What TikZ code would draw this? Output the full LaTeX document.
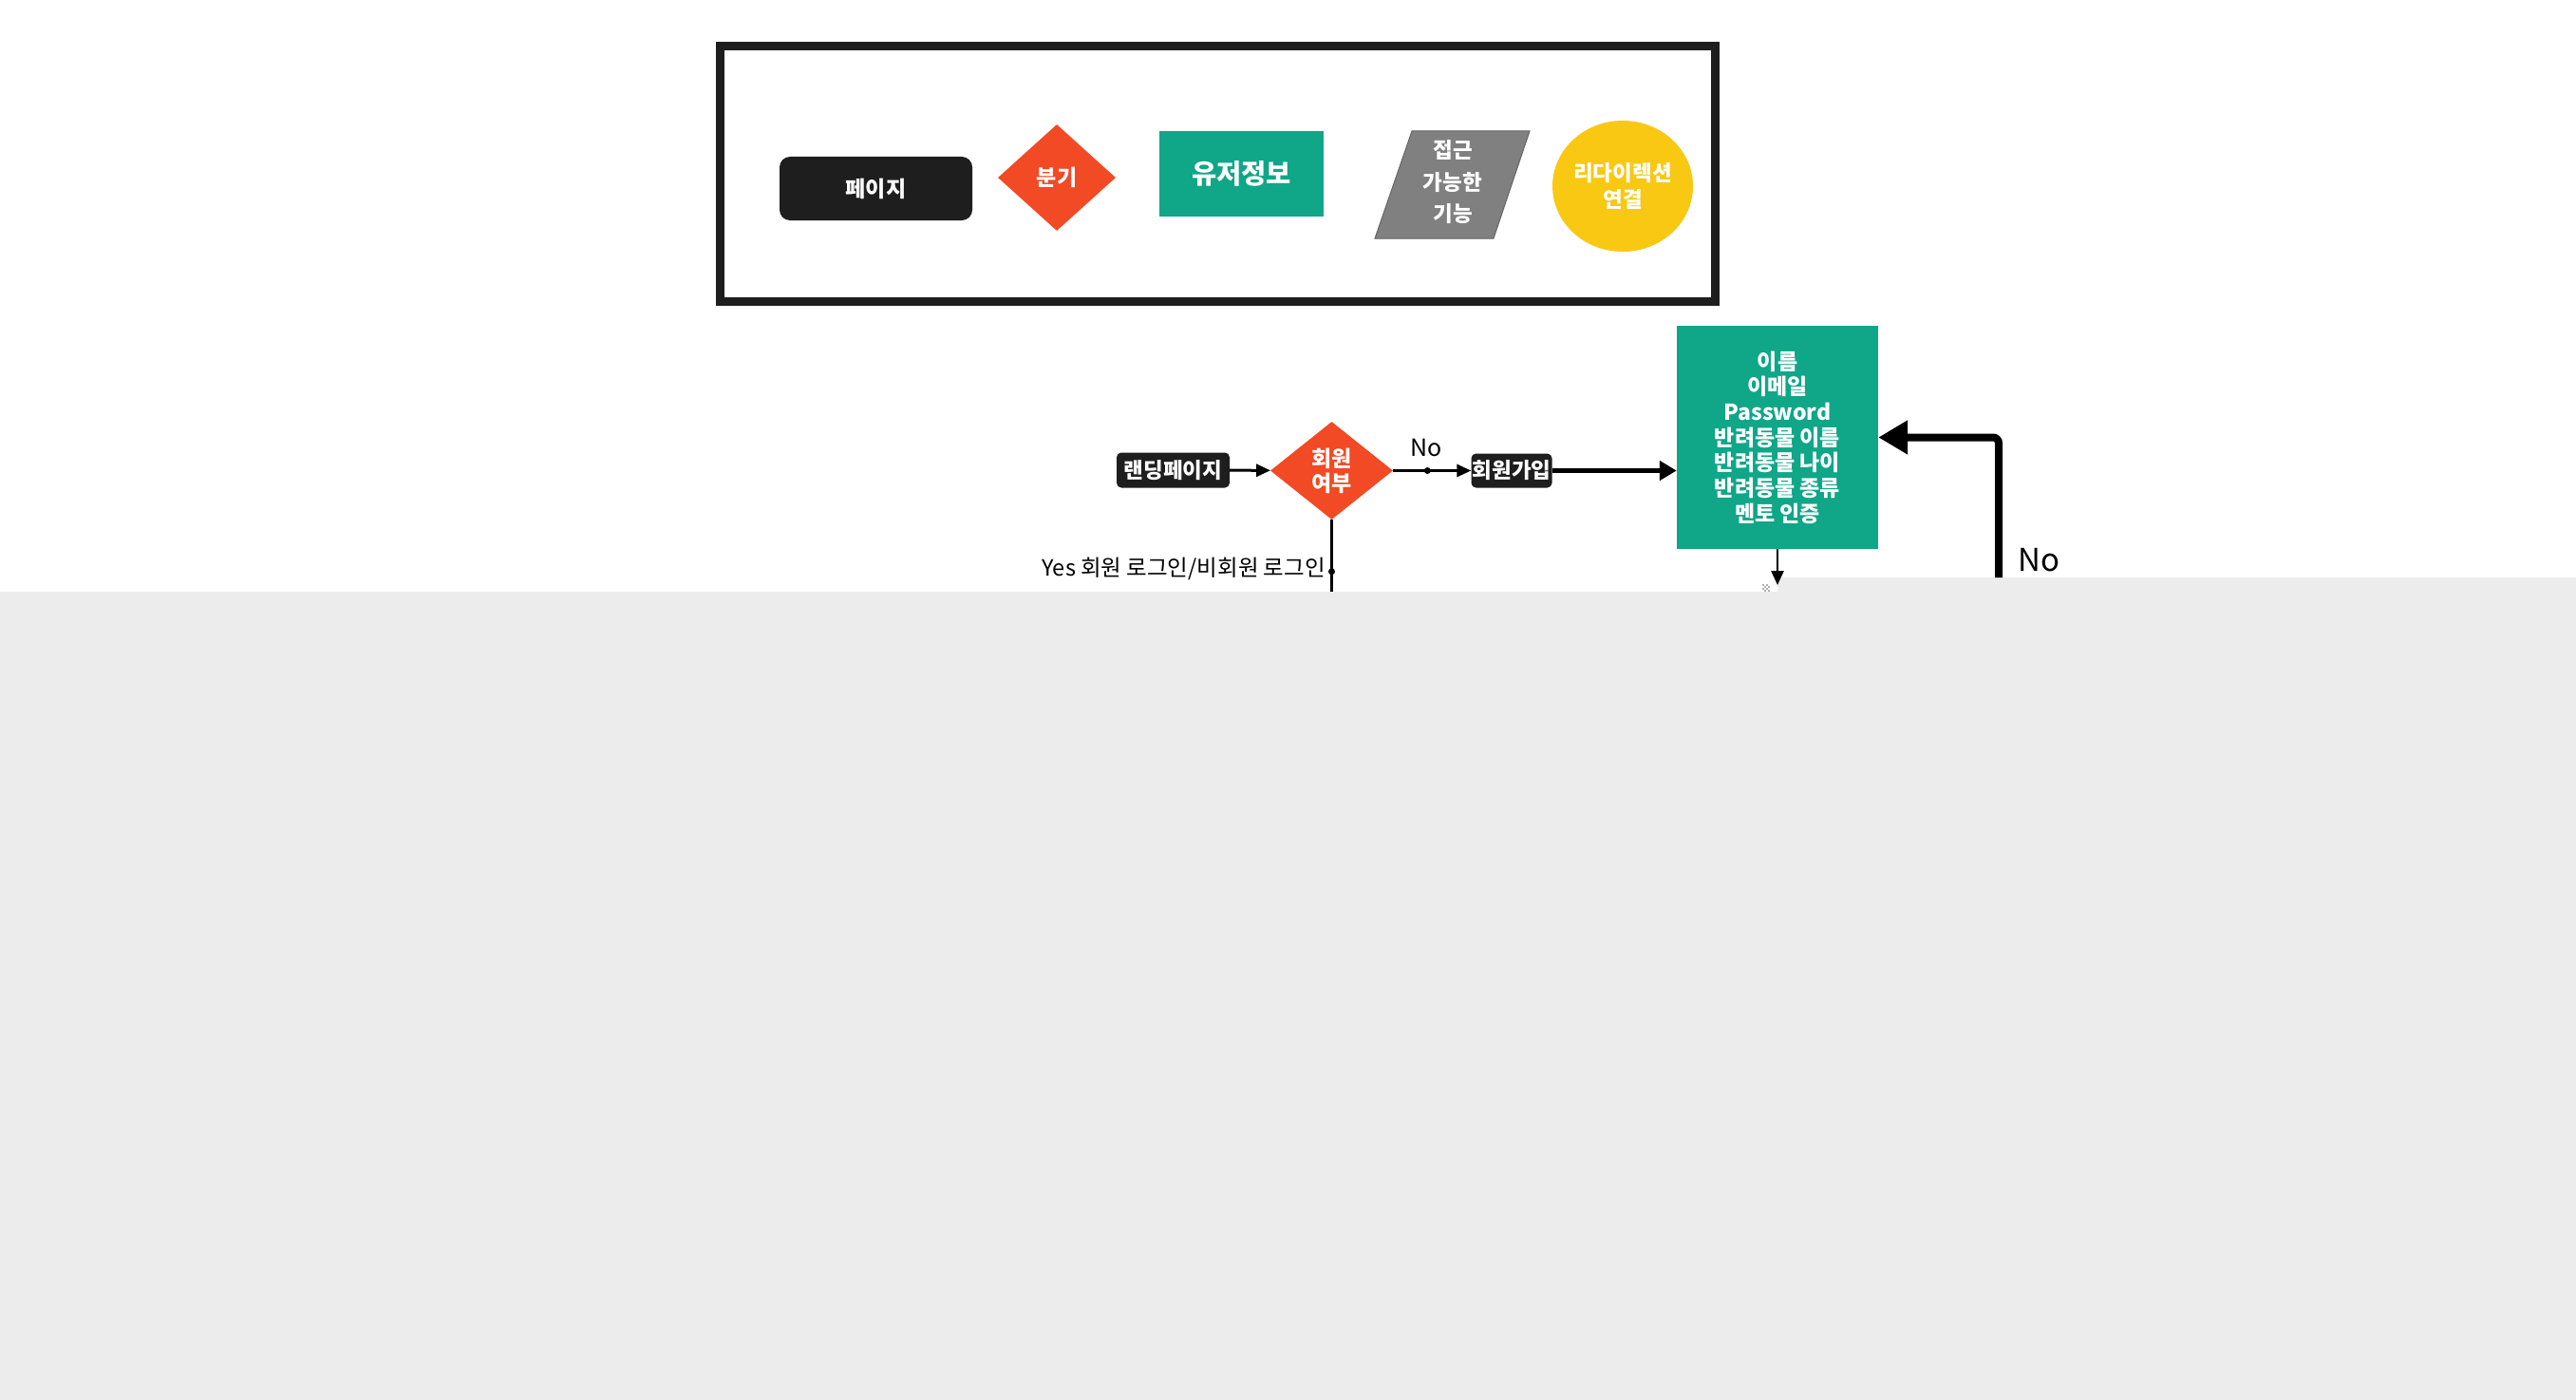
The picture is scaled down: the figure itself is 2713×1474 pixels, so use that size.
\documentclass[tikz,border=0pt]{standalone}
\usepackage{fontspec}
\setmainfont{Noto Sans CJK KR}
\usetikzlibrary{shapes.geometric,arrows.meta}
\definecolor{pageblack}{HTML}{1E1E1E}
\definecolor{branchred}{HTML}{F14A24}
\definecolor{infogreen}{HTML}{10A688}
\definecolor{accgrey}{HTML}{808080}
\definecolor{accedge}{HTML}{666666}
\definecolor{rdyellow}{HTML}{F9C813}
\definecolor{canvasgrey}{HTML}{ECECEC}
\definecolor{iconA}{HTML}{B0B0B0}
\tikzset{
  pagebox/.style={fill=pageblack, text=white, inner sep=0pt, font=\fontsize{22.5}{25}\selectfont\bfseries},
  branchbox/.style={diamond, fill=branchred, text=white, inner sep=0pt, align=center},
  infobox/.style={rectangle, fill=infogreen, text=white, inner sep=0pt, align=center},
  thinarrow/.style={line width=3pt, -{Triangle[length=15pt,width=13pt]}},
  thinline/.style={line width=3pt},
  thickarrow/.style={line width=5pt, -{Triangle[length=18pt,width=20pt]}},
  fbarrow/.style={line width=8pt, -{Triangle[length=31pt,width=34pt]}},
  lbl/.style={inner sep=0pt, text=black}
}
\begin{document}
\begin{tikzpicture}[x=1pt,y=-1pt]
\useasboundingbox (0,0) rectangle (2713,1474);
\fill[white] (0,0) rectangle (2713,1474);
\fill[canvasgrey] (0,623) -- (1872,623) -- (1872,608) -- (2713,608) -- (2713,1474) -- (0,1474) -- cycle;

% legend
\draw[line width=9pt, draw=pageblack] (758.5,48.5) rectangle (1806.5,317.5);
\node[pagebox, minimum width=203pt, minimum height=67pt, rounded corners=11pt, font=\fontsize{23}{26}\selectfont\bfseries] (lgpage) at (922.5,198.5) {페이지};
\node[branchbox, minimum width=124pt, minimum height=112pt, font=\fontsize{23}{26}\selectfont\bfseries] (lgbranch) at (1113,187) {분기};
\node[infobox, minimum width=173pt, minimum height=90pt, text depth=4pt, font=\fontsize{28.5}{31}\selectfont\bfseries] (lginfo) at (1307.5,183) {유저정보};
\filldraw[fill=accgrey, draw=accedge, line width=1pt] (1448,251) -- (1487,138) -- (1611,138) -- (1573,251) -- cycle;
\node[lbl, text=white, align=center, font=\fontsize{22.5}{33.5}\selectfont\bfseries] (lgacc) at (1530,192) {접근\\가능한\\기능};
\node[ellipse, fill=rdyellow, text=white, minimum width=148pt, minimum height=138pt, inner sep=0pt, align=center, font=\fontsize{22.5}{28}\selectfont\bfseries] (lgredir) at (1709,196) {리다이렉션\\연결};

% flow
\node[pagebox, minimum width=119pt, minimum height=37pt, rounded corners=5pt] (land) at (1235.5,495) {랜딩페이지};
\node[branchbox, minimum width=129pt, minimum height=103pt, font=\fontsize{23}{26}\selectfont\bfseries] (member) at (1402.5,495.5) {회원\\여부};
\node[pagebox, minimum width=85pt, minimum height=36pt, rounded corners=5pt] (signup) at (1592,495.5) {회원가입};
\node[infobox, minimum width=212pt, minimum height=235pt, font=\fontsize{23}{26.7}\selectfont\bfseries] (info) at (1872,460.5) {이름\\이메일\\Password\\반려동물 이름\\반려동물 나이\\반려동물 종류\\멘토 인증};

\draw[thinarrow] (land) -- (member);
\draw[thinarrow] (member) -- coordinate[pos=0.44] (nodot) (signup);
\fill (nodot) circle (3.5pt);
\node[lbl, font=\fontsize{25}{28}\selectfont] (nolbl) at (1502,471) {No};
\draw[thickarrow] (signup.east) -- (signup.east -| info.west);

\coordinate (yesend) at (1402.5,623);
\draw[thinline] (member.south) -- coordinate[pos=0.72] (yesdot) (yesend);
\fill (yesdot) circle (3.5pt);
\node[lbl, anchor=east, font=\fontsize{23.5}{26}\selectfont] (yeslbl) at (1396,599) {Yes 회원 로그인/비회원 로그인};

\coordinate (infoout) at (1872,616);
\draw[thinarrow, line width=2.5pt] (info.south) -- (infoout);

\coordinate (fbstart) at (2105,608);
\draw[fbarrow, rounded corners=6pt] (fbstart) |- (info.east);
\node[lbl, anchor=west, font=\fontsize{33}{36}\selectfont] (fblbl) at (2125,590) {No};

% tiny handle icon
\foreach \i in {0,1,2,3}{\foreach \j in {0,1,2,3}{
  \pgfmathtruncatemacro\cellodd{mod(\i+\j,2)}
  \ifnum\cellodd=0 \fill[iconA] (1856+2*\i,615+2*\j) rectangle ++(2,2);\fi
}}
\end{tikzpicture}
\end{document}
